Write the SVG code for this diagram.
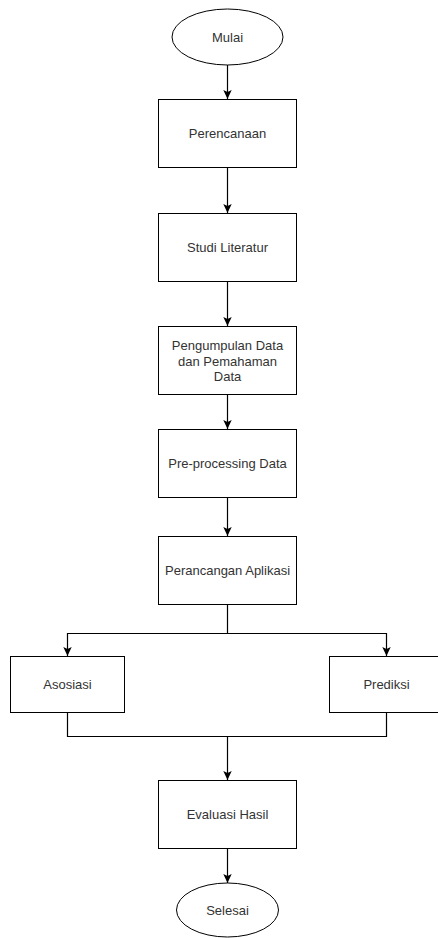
<svg xmlns="http://www.w3.org/2000/svg" width="438" height="938" viewBox="0 0 438 938">
<style>
.n{fill:#ffffff;stroke:#000000;stroke-width:1}
.t{font-family:"Liberation Sans",Arial,sans-serif;font-size:13px;fill:#333333;text-anchor:middle}
.c{fill:none;stroke:#000000;stroke-width:1.2}
</style>
<defs>
<marker id="ah" markerUnits="userSpaceOnUse" markerWidth="10" markerHeight="10" viewBox="0 0 10 10" refX="9" refY="5" orient="auto">
<path d="M0,0.8 L9,5 L0,9.2 L2,5 Z" fill="#000000"/>
</marker>
</defs>
<rect width="438" height="938" fill="#ffffff"/>
<g id="connectors">
<line class="c" x1="227.5" y1="65" x2="227.5" y2="99" marker-end="url(#ah)"/>
<line class="c" x1="227.5" y1="167.5" x2="227.5" y2="213" marker-end="url(#ah)"/>
<line class="c" x1="227.5" y1="281.5" x2="227.5" y2="326" marker-end="url(#ah)"/>
<line class="c" x1="227.5" y1="394.5" x2="227.5" y2="429" marker-end="url(#ah)"/>
<line class="c" x1="227.5" y1="497.5" x2="227.5" y2="536" marker-end="url(#ah)"/>
<polyline class="c" points="227.5,604.5 227.5,633.5 67.5,633.5 67.5,656" marker-end="url(#ah)"/>
<polyline class="c" points="227.5,633.5 386.5,633.5 386.5,656" marker-end="url(#ah)"/>
<polyline class="c" points="67.5,712.5 67.5,736.5 386.5,736.5 386.5,712.5" stroke="#333333"/>
<line class="c" x1="227.5" y1="736.5" x2="227.5" y2="780" stroke="#808080" stroke-width="1.6" marker-end="url(#ah)"/>
<line class="c" x1="227.5" y1="848.5" x2="227.5" y2="883" marker-end="url(#ah)"/>
</g>
<g id="mulai">
<ellipse class="n" cx="227.5" cy="37" rx="55.5" ry="28"/>
<text class="t" x="227.5" y="41.5">Mulai</text>
</g>
<g id="perencanaan">
<rect class="n" x="158.5" y="99.5" width="138" height="68"/>
<text class="t" x="227.5" y="138">Perencanaan</text>
</g>
<g id="studi">
<rect class="n" x="158.5" y="213.5" width="138" height="68"/>
<text class="t" x="227.5" y="252">Studi Literatur</text>
</g>
<g id="pengumpulan">
<rect class="n" x="158.5" y="326.5" width="138" height="68"/>
<text class="t" x="227.5" y="350">Pengumpulan Data</text>
<text class="t" x="227.5" y="365.5">dan Pemahaman</text>
<text class="t" x="227.5" y="381">Data</text>
</g>
<g id="preprocessing">
<rect class="n" x="158.5" y="429.5" width="138" height="68"/>
<text class="t" x="227.5" y="468">Pre-processing Data</text>
</g>
<g id="perancangan">
<rect class="n" x="158.5" y="536.5" width="138" height="68"/>
<text class="t" x="227.5" y="575">Perancangan Aplikasi</text>
</g>
<g id="asosiasi">
<rect class="n" x="10.5" y="656.5" width="114" height="56"/>
<text class="t" x="67.5" y="689">Asosiasi</text>
</g>
<g id="prediksi">
<rect class="n" x="329.5" y="656.5" width="114" height="56"/>
<text class="t" x="386.5" y="689">Prediksi</text>
</g>
<g id="evaluasi">
<rect class="n" x="158.5" y="780.5" width="138" height="68"/>
<text class="t" x="227.5" y="819">Evaluasi Hasil</text>
</g>
<g id="selesai">
<ellipse class="n" cx="227.5" cy="910" rx="51" ry="27"/>
<text class="t" x="227.5" y="914.5">Selesai</text>
</g>
</svg>
